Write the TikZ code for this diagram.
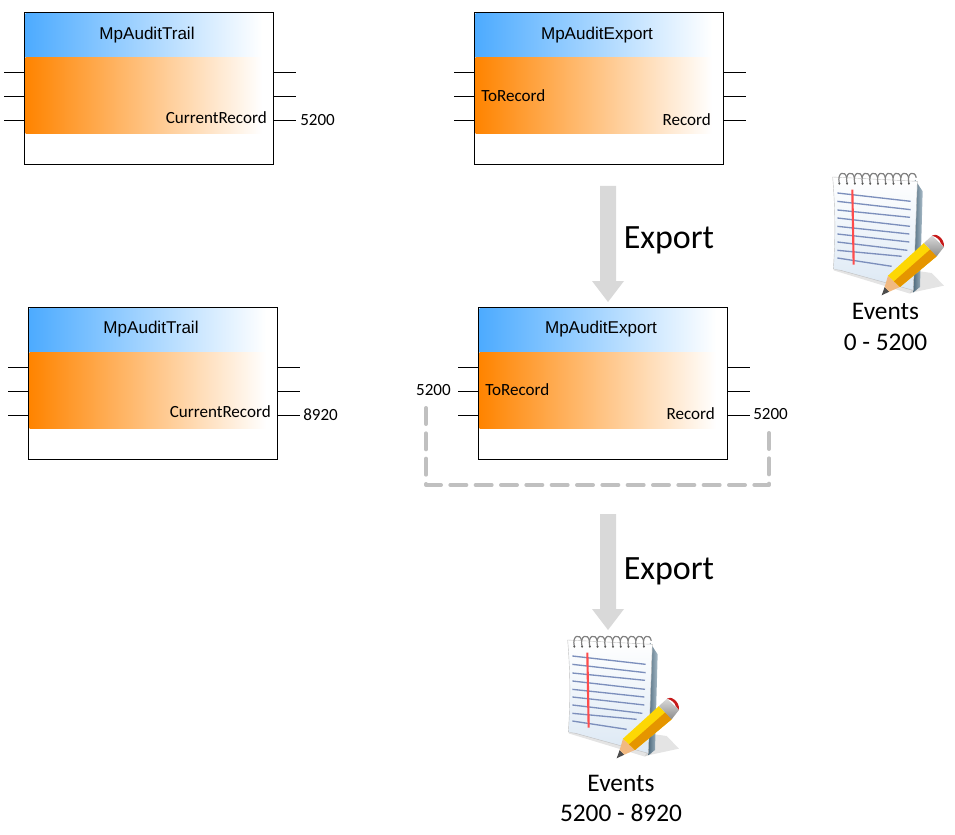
\documentclass[tikz,border=0pt]{standalone}
\usepackage{fontspec}
\setmainfont{Carlito}
\newfontfamily\arialf{Liberation Sans}
\usetikzlibrary{calc}
\definecolor{bluegrad}{HTML}{4DABFF}
\definecolor{orangegrad}{HTML}{FF8400}
\definecolor{arrowgrey}{HTML}{D9D9D9}
\definecolor{dashgrey}{HTML}{C0C0C0}
\definecolor{ruleblue}{HTML}{7C8FBC}
\definecolor{coverdark}{HTML}{4F6B7E}
\definecolor{coverlight}{HTML}{A9BCC8}
\definecolor{pagelow}{HTML}{DCE8F4}
\tikzset{
  x=0.75pt,y=-0.75pt,
  fbbox/.style={draw=black,line width=0.75pt,minimum width=186.75pt,minimum height=114pt,inner sep=0pt,outer sep=0pt},
  pinline/.style={draw=black,line width=0.75pt},
  fbtitle/.style={font=\arialf\fontsize{12.8}{15}\selectfont,inner sep=0pt},
  lbl/.style={font=\fontsize{12.8}{15}\selectfont,inner sep=0pt},
  biglbl/.style={font=\fontsize{19}{23}\selectfont,inner sep=0pt,align=center},
  exportlbl/.style={font=\fontsize{25.5}{30}\selectfont,inner sep=0pt},
  blockarrow/.style={fill=arrowgrey,draw=none},
  fbdash/.style={draw=dashgrey,line width=3pt,dash pattern=on 12pt off 7pt,line cap=round,line join=round},
}
% \fblock{name}{left x}{top y}{title}
\newcommand{\fblock}[4]{%
  \node[fbbox,anchor=north west] (#1) at (#2,#3) {};
  \shade[left color=bluegrad,right color=white] ($(#2,#3)+(1.6,1)$) rectangle ($(#2,#3)+(238,45)$);
  \shade[left color=orangegrad,right color=white] ($(#2,#3)+(1.6,45)$) rectangle ($(#2,#3)+(238,121)$);
  \node[fbtitle] (#1title) at ($(#2,#3)+(123,22)$) {#4};
  \foreach \n/\dy in {1/60,2/84,3/108}{
    \coordinate (#1l\n) at ($(#2,#3)+(-20,\dy)$);
    \coordinate (#1r\n) at ($(#2,#3)+(272,\dy)$);
    \draw[pinline] (#1l\n) -- (#1.west |- #1l\n);
    \draw[pinline] (#1.east |- #1r\n) -- (#1r\n);
  }
}
% \notepad{x}{y}: origin at the icon crop's top left, drawn at one third scale
\newcommand{\notepad}[2]{%
  \begin{scope}[shift={(#1,#2)},scale=0.3333]
    \fill[black!30,opacity=.35] (270,390) -- (372,368) -- (335,330) -- (300,325) -- cycle;
    \fill[black!30,opacity=.35] (40,322) -- (270,392) -- (292,382) -- (60,320) -- cycle;
    \shade[left color=coverdark,right color=coverlight] (285,50) -- (308,85) -- (300,372) -- (280,388) -- cycle;
    \shade[top color=white,bottom color=pagelow,draw=black!25,line width=.3pt]
      (38,42) -- (292,55) -- (280,382) -- (62,322) .. controls (50,320) and (44,320) .. (40,318) .. controls (48,200) and (44,120) .. (38,42) -- cycle;
    \foreach \a/\b/\c in {90/272/115,115/272/140,141/270/163,165/270/190,190/268/213,213/268/237,237/262/262,262/245/280,285/215/310}{
      \draw[ruleblue,line width=1pt] (52,\a) -- (\b,\c);
    }
    \draw[red!70!white,line width=1.6pt] (97,80) -- (101,305);
    \foreach \i in {0,...,9}{
      \draw[black!50,line width=.9pt] ({58+\i*23.2},62) .. controls ({50+\i*23.2},26) and ({76+\i*23.2},22) .. ({80+\i*23.2},44);
      \fill[black!65] ({58+\i*23.2},62) circle[radius=3.4];
    }
    % pencil
    \fill[black!70] (185,397) -- (194,372) -- (208,386) -- cycle;
    \fill[brown!40!orange!55!white] (194,372) -- (204,338) -- (240,372) -- (208,386) -- cycle;
    \fill[yellow!75!orange] (204,338) -- (312,240) -- (350,280) -- (240,372) -- cycle;
    \fill[orange!70!yellow!90!black] (222,355) -- (332,258) -- (350,280) -- (240,372) -- cycle;
    \shade[top color=black!15,bottom color=black!45] (312,240) -- (336,218) -- (372,252) -- (350,280) -- cycle;
    \fill[red!75!black!90] (336,218) .. controls (345,208) and (375,225) .. (372,252) -- (362,240) .. controls (360,230) and (350,222) .. (336,218) -- cycle;
  \end{scope}%
}
\begin{document}
\begin{tikzpicture}
\useasboundingbox (0,0) rectangle (955,834);
\fblock{ta}{24}{13}{MpAuditTrail}
\fblock{ea}{474}{13}{MpAuditExport}
\fblock{tb}{28}{307}{MpAuditTrail}
\fblock{eb}{478}{307}{MpAuditExport}

\node[lbl,anchor=east] (tacr) at (267,118) {CurrentRecord};
\node[lbl,anchor=west] (taval) at (300,120.5) {5200};
\node[lbl,anchor=west] (eato) at (481,96) {ToRecord};
\node[lbl,anchor=east] (earec) at (711,120) {Record};
\node[lbl,anchor=east] (tbcr) at (271,412) {CurrentRecord};
\node[lbl,anchor=west] (tbval) at (303,414.5) {8920};
\node[lbl,anchor=west] (ebto) at (485,390) {ToRecord};
\node[lbl,anchor=east] (ebrec) at (715,414) {Record};
\node[lbl,anchor=east] (ebin) at (451,390.5) {5200};
\node[lbl,anchor=west] (ebout) at (753,414.5) {5200};

% feedback of the exported record
\coordinate (fba) at (769,433);
\coordinate (fbb) at (769,485);
\coordinate (fbc) at (426,485);
\coordinate (fbd) at (426,402);
\draw[fbdash] (fba) -- (fbb) -- (fbc) -- (fbd);

% block arrows
\fill[blockarrow] (600,186) -- (616,186) -- (616,281) -- (624,281) -- (608,302) -- (592,281) -- (600,281) -- cycle;
\fill[blockarrow] (600,514) -- (616,514) -- (616,609) -- (624,609) -- (608,630) -- (592,609) -- (600,609) -- cycle;
\node[exportlbl,anchor=west] (exa) at (623.5,240) {Export};
\node[exportlbl,anchor=west] (exb) at (623.5,571) {Export};

\notepad{820}{163}
\notepad{555}{626}
\node[biglbl] (eva) at (885.5,311) {Events};
\node[biglbl] (rga) at (885.5,342) {0 - 5200};
\node[biglbl] (evb) at (621,783) {Events};
\node[biglbl] (rgb) at (621,813) {5200 - 8920};
\end{tikzpicture}
\end{document}
